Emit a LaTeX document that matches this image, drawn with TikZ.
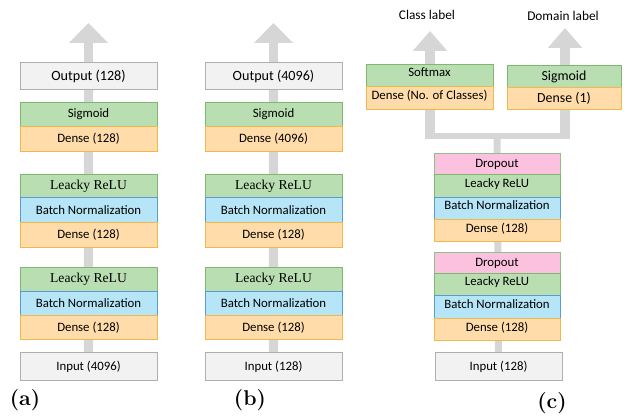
\documentclass[tikz,border=0pt]{standalone}
\usepackage{fontspec}
\setmainfont{Carlito}
\newfontfamily\camb{Liberation Serif}
\newfontfamily\lmfont{Latin Modern Roman}
\usetikzlibrary{arrows.meta,backgrounds}
\definecolor{grayfill}{HTML}{F2F2F2}
\definecolor{grayline}{HTML}{AFAFAF}
\definecolor{greenfill}{HTML}{B9DEB2}
\definecolor{greenline}{HTML}{7DB86E}
\definecolor{bluefill}{HTML}{B5E5F6}
\definecolor{blueline}{HTML}{5B9BD5}
\definecolor{orangefill}{HTML}{FFDCAA}
\definecolor{orangeline}{HTML}{F2B84B}
\definecolor{pinkfill}{HTML}{FDC1E0}
\definecolor{pinkline}{HTML}{94BE8A}
\definecolor{arrowgray}{HTML}{D6D6D6}
\definecolor{shaftdark}{HTML}{A4A4A4}
\begin{document}
\begin{tikzpicture}[x=0.75pt,y=-0.75pt,
    layer/.style={draw, line width=0.75pt, inner sep=0pt, anchor=north,
      font=\fontsize{9.6}{11}\selectfont},
    ht/.style={minimum height=#1*0.75pt},
    wd/.style={minimum width=#1*0.75pt},
    iobox/.style={layer, fill=grayfill, draw=grayline},
    actbox/.style={layer, fill=greenfill, draw=greenline},
    normbox/.style={layer, fill=bluefill, draw=blueline},
    densebox/.style={layer, fill=orangefill, draw=orangeline},
    dropbox/.style={layer, fill=pinkfill, draw=pinkline},
    raised/.style={text depth=4.5pt},
    flow/.style={draw=arrowgray, line width=#1*0.75pt},
    bighead/.style={-{Triangle[width=28.5pt,length=15pt]}},
    smallhead/.style={-{Triangle[width=25pt,length=15pt]}},
    serifrelu/.style={font=\camb\fontsize{10.2}{12}\selectfont},
    sublabel/.style={font=\lmfont\bfseries\fontsize{16}{18}\selectfont}]
\useasboundingbox (0,0) rectangle (625,416);

% columns (a) and (b)
\foreach \c/\x/\o/\d/\i in {A/88.5/128/128/4096, B/273.5/4096/4096/128} {
  \node[iobox, wd=137, ht=27, font=\fontsize{10.6}{12}\selectfont] (out\c) at (\x,62) {Output (\o)};
  \node[actbox, wd=137, ht=24] (sig\c) at (\x,102) {Sigmoid};
  \node[densebox, wd=137, ht=25] (dn\c3) at (\x,126) {Dense (\d)};
  \node[actbox, wd=137, ht=23, serifrelu] (lr\c2) at (\x,174) {Leacky ReLU};
  \node[normbox, wd=137, ht=25] (bn\c2) at (\x,197) {Batch Normalization};
  \node[densebox, wd=137, ht=25] (dn\c2) at (\x,222) {Dense (128)};
  \node[actbox, wd=137, ht=24, serifrelu] (lr\c1) at (\x,267) {Leacky ReLU};
  \node[normbox, wd=137, ht=24] (bn\c1) at (\x,291) {Batch Normalization};
  \node[densebox, wd=137, ht=24] (dn\c1) at (\x,315) {Dense (128)};
  \node[iobox, wd=137, ht=28] (in\c) at (\x,352) {Input (\i)};
  \coordinate (tip\c) at (\x,23);
  \begin{pgfonlayer}{background}
    \draw[flow=9, bighead] (in\c.north) -- (tip\c);
    \shade[top color=arrowgray, middle color=shaftdark, bottom color=arrowgray]
      ([xshift=-3.4pt]out\c.south) rectangle ([xshift=3.4pt]in\c.north);
  \end{pgfonlayer}
}

% column (c): two heads
\node[actbox, raised, wd=127, ht=22] (smx) at (429.5,64) {Softmax};
\node[densebox, raised, wd=127, ht=23] (dnCls) at (429.5,86) {Dense (No. of Classes)};
\node[actbox, wd=114, ht=22, font=\fontsize{10.4}{12}\selectfont] (sigD) at (564,65) {Sigmoid};
\node[densebox, wd=114, ht=22, font=\fontsize{10.4}{12}\selectfont] (dnDom) at (564,87) {Dense (1)};
\node[font=\fontsize{10}{12}\selectfont] (clsLbl) at (427,15) {Class label};
\node[font=\fontsize{10}{12}\selectfont] (domLbl) at (563,16) {Domain label};

% column (c): shared trunk
\node[dropbox, wd=126, ht=21] (dpC2) at (497,153) {Dropout};
\node[actbox, raised, wd=126, ht=23] (lrC2) at (497,174) {Leacky ReLU};
\node[normbox, raised, wd=126, ht=22] (bnC2) at (497,197) {Batch Normalization};
\node[densebox, raised, wd=126, ht=22] (dnC2) at (497,219) {Dense (128)};
\node[dropbox, wd=126, ht=21] (dpC1) at (497,252) {Dropout};
\node[actbox, raised, wd=126, ht=22] (lrC1) at (497,273) {Leacky ReLU};
\node[normbox, raised, wd=126, ht=23] (bnC1) at (497,295) {Batch Normalization};
\node[densebox, raised, wd=126, ht=22] (dnC1) at (497,318) {Dense (128)};
\node[iobox, wd=127, ht=28] (inC) at (498.5,352) {Input (128)};

\coordinate (split) at (497,136);
\coordinate (barL) at (425,136);
\coordinate (barR) at (570,136);
\coordinate (brL) at (430,139);
\coordinate (brR) at (565,139);
\coordinate (tipL) at (430,31);
\coordinate (tipR) at (565,28);
\begin{pgfonlayer}{background}
  \draw[flow=7] (inC.north) -- (split);
  \draw[flow=6] (barL) -- (barR);
  \draw[flow=10, smallhead] (brL) -- (tipL);
  \draw[flow=10, smallhead] (brR) -- (tipR);
\end{pgfonlayer}

\node[sublabel] (labA) at (25,400) {(a)};
\node[sublabel] (labB) at (250,400) {(b)};
\node[sublabel] (labC) at (552,403) {(c)};
\end{tikzpicture}
\end{document}
